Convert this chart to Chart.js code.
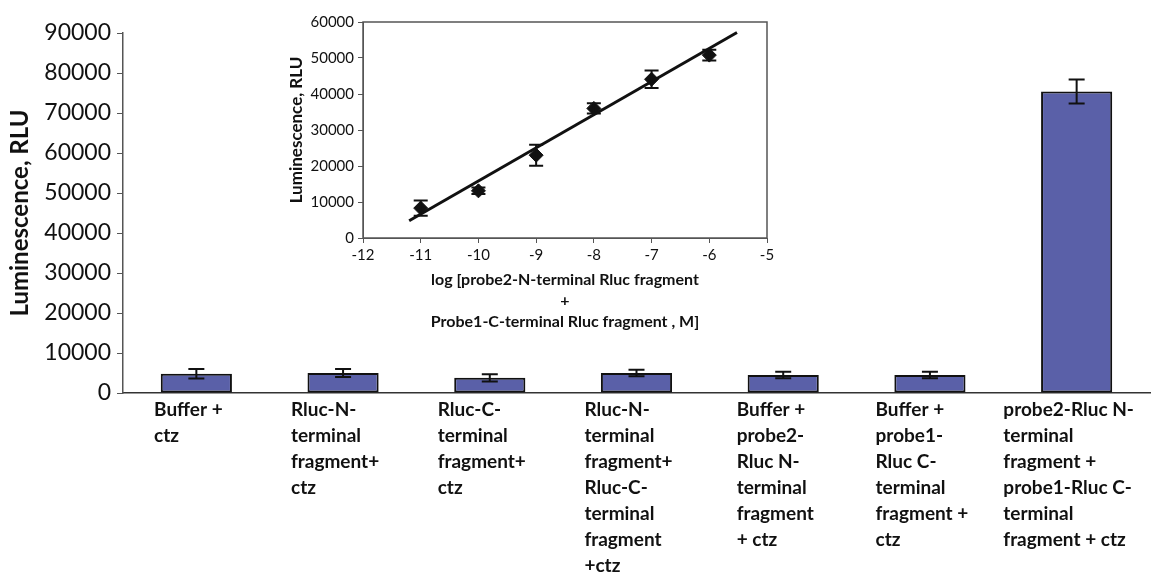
<!DOCTYPE html>
<html>
<head>
<meta charset="utf-8">
<script src="https://cdn.jsdelivr.net/npm/chart.js@4.4.0/dist/chart.umd.min.js"></script>
<style>
	body { margin: 0; background: #fff; }
	#wrap { position: relative; width: 1165px; height: 579px; }
	#mainChart { position: absolute; left: 0; top: 0; }
	#insetChart { position: absolute; left: 280px; top: 0; }
</style>
</head>
<body>
<div id="wrap">
	<canvas id="mainChart" width="1165" height="579"></canvas>
	<canvas id="insetChart" width="500" height="340"></canvas>
</div>
<script>
// main bar chart
const barLabels = [
	['Buffer +', 'ctz'],
	['Rluc-N-', 'terminal', 'fragment+', 'ctz'],
	['Rluc-C-', 'terminal', 'fragment+', 'ctz'],
	['Rluc-N-', 'terminal', 'fragment+', 'Rluc-C-', 'terminal', 'fragment', '+ctz'],
	['Buffer +', 'probe2-', 'Rluc N-', 'terminal', 'fragment', '+ ctz'],
	['Buffer +', 'probe1-', 'Rluc C-', 'terminal', 'fragment +', 'ctz'],
	['probe2-Rluc N-', 'terminal', 'fragment +', 'probe1-Rluc C-', 'terminal', 'fragment + ctz']
]
const barValues = [4800, 5000, 3800, 5000, 4500, 4500, 75400]
const barErrors = [1200, 1000, 900, 800, 800, 800, 3000]

// inset: luminescence vs log concentration
const insetX = [-11, -10, -9, -8, -7, -6]
const insetY = [8300, 13100, 23000, 36000, 44100, 50800]
const insetErr = [2100, 900, 2900, 1400, 2400, 1500]
const trendX = [-11.2, -5.52]
const trendY = [4800, 57100]

const ink = '#111'
const axisGray = '#555'

const errorBars = {
	id: 'errorBars',
	afterDatasetsDraw(chart) {
		const ctx = chart.ctx
		chart.data.datasets.forEach((ds, i) => {
			if (!ds.errors) return
			const meta = chart.getDatasetMeta(i)
			const yScale = chart.scales[meta.yAxisID]
			ctx.save()
			ctx.strokeStyle = ink
			ctx.lineWidth = 2
			meta.data.forEach((el, j) => {
				let v = ds.data[j]
				if (typeof v === 'object') v = v.y
				const e = ds.errors[j]
				const top = yScale.getPixelForValue(v + e)
				const bot = yScale.getPixelForValue(v - e)
				const cap = ds.capWidth || 7
				ctx.beginPath()
				ctx.moveTo(el.x, top)
				ctx.lineTo(el.x, bot)
				ctx.moveTo(el.x - cap, top)
				ctx.lineTo(el.x + cap, top)
				ctx.moveTo(el.x - cap, bot)
				ctx.lineTo(el.x + cap, bot)
				ctx.stroke()
			})
			ctx.restore()
		})
	}
}

// multi-line category labels, lines left aligned, block centred on the tick
const blockLabels = {
	id: 'blockLabels',
	afterDraw(chart) {
		const xs = chart.scales.x
		const ctx = chart.ctx
		ctx.save()
		ctx.font = 'bold 19px Lato'
		ctx.fillStyle = ink
		ctx.textBaseline = 'alphabetic'
		chart.data.labels.forEach((lines, i) => {
			const cx = xs.getPixelForTick(i)
			let w = 0
			lines.forEach(l => { w = Math.max(w, ctx.measureText(l).width) })
			const left = cx - w / 2 - 8
			lines.forEach((l, k) => {
				ctx.fillText(l, left, xs.top + 23 + k * 26)
			})
		})
		ctx.restore()
	}
}

const frame = {
	id: 'frame',
	afterDraw(chart) {
		const a = chart.chartArea
		const ctx = chart.ctx
		ctx.save()
		ctx.strokeStyle = axisGray
		ctx.lineWidth = 1.5
		ctx.strokeRect(a.left, a.top, a.right - a.left, a.bottom - a.top)
		ctx.restore()
	}
}

const plain = v => String(v)

function init() {
	new Chart(document.getElementById('mainChart'), {
		type: 'bar',
		data: {
			labels: barLabels,
			datasets: [{
				data: barValues,
				errors: barErrors,
				capWidth: 8,
				backgroundColor: 'rgb(90,96,168)',
				borderColor: ink,
				borderWidth: 2,
				borderSkipped: false,
				categoryPercentage: 1,
				barPercentage: 0.485
			}]
		},
		options: {
			responsive: false,
			animation: false,
			layout: { padding: { top: 33, right: 15, left: 6, bottom: 0 } },
			plugins: { legend: { display: false }, tooltip: { enabled: false } },
			scales: {
				x: {
					grid: { display: false },
					border: { display: true, color: '#333', width: 1.5 },
					ticks: { color: 'transparent', font: { size: 17 } },
					afterFit(scale) { scale.height = 186 }
				},
				y: {
					min: 0,
					max: 90000,
					ticks: {
						stepSize: 10000,
						color: ink,
						padding: 6,
						callback: plain,
						font: { family: 'Lato', size: 23 }
					},
					grid: { drawOnChartArea: false, drawTicks: true, tickLength: 6, color: axisGray },
					border: { display: true, color: axisGray, width: 1.5 },
					title: {
						display: true,
						text: 'Luminescence, RLU',
						color: ink,
						padding: 0,
						font: { family: 'Lato', size: 24, weight: 'bold' }
					},
					afterFit(scale) { scale.width = 117 }
				}
			}
		},
		plugins: [errorBars, blockLabels]
	})

	new Chart(document.getElementById('insetChart'), {
		type: 'scatter',
		data: {
			datasets: [{
				type: 'line',
				data: trendX.map((x, i) => ({ x: x, y: trendY[i] })),
				borderColor: ink,
				borderWidth: 3,
				pointRadius: 0,
				fill: false
			}, {
				data: insetX.map((x, i) => ({ x: x, y: insetY[i] })),
				errors: insetErr,
				capWidth: 7,
				pointStyle: 'rectRot',
				pointRadius: 7,
				backgroundColor: ink,
				borderColor: ink
			}]
		},
		options: {
			responsive: false,
			animation: false,
			layout: { padding: { top: 22, right: 13, left: 6, bottom: 0 } },
			plugins: { legend: { display: false }, tooltip: { enabled: false } },
			scales: {
				x: {
					type: 'linear',
					min: -12,
					max: -5,
					ticks: { stepSize: 1, color: ink, padding: 3, font: { family: 'Lato', size: 15 } },
					grid: { drawOnChartArea: false, drawTicks: true, tickLength: 5, color: axisGray },
					border: { display: true, color: axisGray },
					title: {
						display: true,
						text: ['log [probe2-N-terminal Rluc fragment', '+', 'Probe1-C-terminal Rluc fragment , M]'],
						color: ink,
						padding: { top: 0, bottom: 7 },
						font: { family: 'Lato', size: 16, weight: 'bold', lineHeight: 1.34 }
					},
					afterFit(scale) { scale.height = 102 }
				},
				y: {
					min: 0,
					max: 60000,
					ticks: { stepSize: 10000, color: ink, padding: 4, callback: plain, font: { family: 'Lato', size: 15 } },
					grid: { drawOnChartArea: false, drawTicks: true, tickLength: 5, color: axisGray },
					border: { display: true, color: axisGray },
					title: {
						display: true,
						text: 'Luminescence, RLU',
						color: ink,
						padding: 0,
						font: { family: 'Lato', size: 17, weight: 'bold' }
					},
					afterFit(scale) { scale.width = 77 }
				}
			}
		},
		plugins: [errorBars, frame]
	})
}

init()
</script>
</body>
</html>
